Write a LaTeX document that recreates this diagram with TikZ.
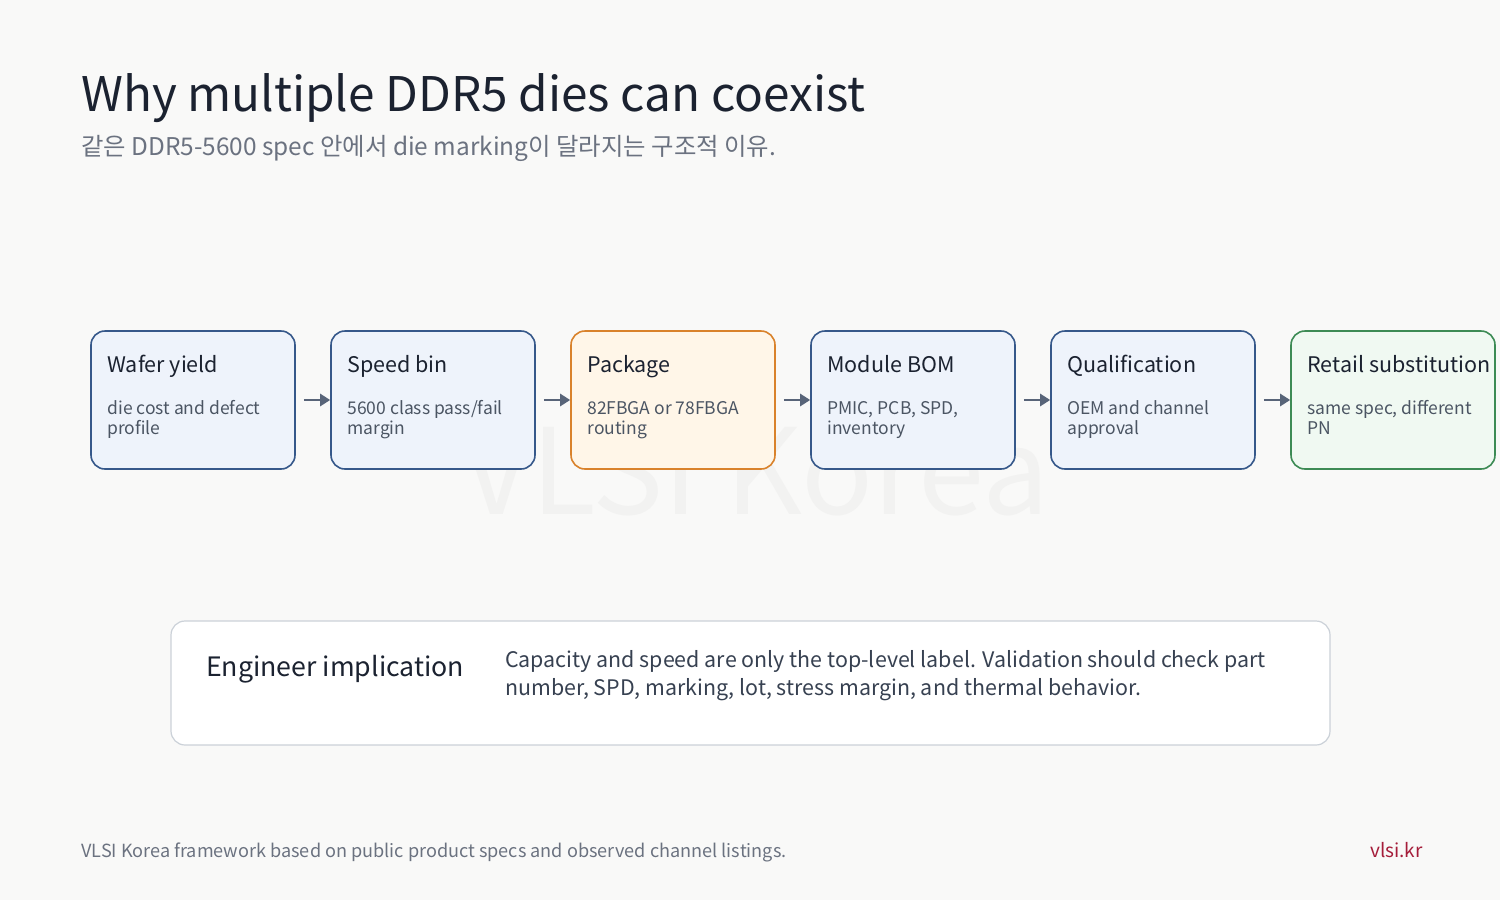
\documentclass[tikz,border=0pt]{standalone}
\usepackage{fontspec}
\setmainfont{Noto Sans CJK KR}
\usetikzlibrary{arrows.meta,calc}
\definecolor{bg}{HTML}{F9F9F8}
\definecolor{ink}{HTML}{1B2230}
\definecolor{subgray}{HTML}{6B7280}
\definecolor{descgray}{HTML}{4B5563}
\definecolor{wmgray}{HTML}{F2F2F1}
\definecolor{bluefill}{HTML}{EEF3FB}
\definecolor{bluedraw}{HTML}{36588A}
\definecolor{orangefill}{HTML}{FFF6E8}
\definecolor{orangedraw}{HTML}{D9822B}
\definecolor{greenfill}{HTML}{F0F9F2}
\definecolor{greendraw}{HTML}{3D8B55}
\definecolor{arrowgray}{HTML}{586478}
\definecolor{notedraw}{HTML}{CBD1D8}
\definecolor{bodyink}{HTML}{374151}
\definecolor{brand}{HTML}{A51D3A}
\tikzset{
  stagebox/.style={rounded corners=14pt, line width=1.6pt, minimum width=204pt, minimum height=138pt, inner sep=0pt},
  bluebox/.style={stagebox, fill=bluefill, draw=bluedraw},
  orangebox/.style={stagebox, fill=orangefill, draw=orangedraw},
  greenbox/.style={stagebox, fill=greenfill, draw=greendraw},
  stagetitle/.style={anchor=base west, inner sep=0pt, text=ink, font=\fontsize{21.5}{26}\selectfont},
  stagedesc/.style={anchor=base west, inner sep=0pt, text=descgray, align=left, font=\fontsize{17.5}{19.5}\selectfont},
  flowarrow/.style={draw=arrowgray, line width=2.6pt, -{Triangle[length=10pt,width=12pt]}, shorten <=8pt},
}
\begin{document}
\begin{tikzpicture}[x=1pt,y=-1pt]
\fill[bg] (0,0) rectangle (1500,900);
\useasboundingbox (0,0) rectangle (1500,900);

% watermark
\node[anchor=base, inner sep=0pt, text=wmgray, font=\fontsize{119}{119}\selectfont] (wm) at (756,514) {VLSI Korea};

% title
\node[anchor=base west, inner sep=0pt, text=ink, font=\fontsize{47.7}{56}\selectfont] (title) at (81,111) {Why multiple DDR5 dies can coexist};
\node[anchor=base west, inner sep=0pt, text=subgray, font=\fontsize{24.4}{30}\selectfont] (subtitle) at (81,155) {같은 DDR5-5600 spec 안에서 die marking이 달라지는 구조적 이유.};

% stages
\node[bluebox] (b1) at (193,400) {};
\node[bluebox] (b2) at (433,400) {};
\node[orangebox] (b3) at (673,400) {};
\node[bluebox] (b4) at (913,400) {};
\node[bluebox] (b5) at (1153,400) {};
\node[greenbox] (b6) at (1393,400) {};

\foreach \b/\t/\d in {
  b1/{Wafer yield}/{die cost and defect\\profile},
  b2/{Speed bin}/{5600 class pass/fail\\margin},
  b3/{Package}/{82FBGA or 78FBGA\\routing},
  b4/{Module BOM}/{PMIC, PCB, SPD,\\inventory},
  b5/{Qualification}/{OEM and channel\\approval},
  b6/{Retail substitution}/{same spec, different\\PN}}{
  \node[stagetitle] (\b-t) at ($(\b.north west)+(17,42)$) {\t};
  \node[stagedesc] (\b-d) at ($(\b.north west)+(17,104)$) {\d};
}

\draw[flowarrow] (b1) -- (b2);
\draw[flowarrow] (b2) -- (b3);
\draw[flowarrow] (b3) -- (b4);
\draw[flowarrow] (b4) -- (b5);
\draw[flowarrow] (b5) -- (b6);

% note box
\node[rounded corners=14pt, fill=white, draw=notedraw, line width=1.2pt, minimum width=1159pt, minimum height=124pt, inner sep=0pt] (note) at (750.5,683) {};
\node[anchor=base west, inner sep=0pt, text=ink, font=\fontsize{26.7}{32}\selectfont] (notehead) at (206,676) {Engineer implication};
\node[anchor=base west, inner sep=0pt, text=bodyink, align=left, font=\fontsize{21.4}{28}\selectfont] (notebody) at (505,695) {Capacity and speed are only the top-level label. Validation should check part\\number, SPD, marking, lot, stress margin, and thermal behavior.};

% footer
\node[anchor=base west, inner sep=0pt, text=subgray, font=\fontsize{18.1}{22}\selectfont] (foot) at (81,857) {VLSI Korea framework based on public product specs and observed channel listings.};
\node[anchor=base east, inner sep=0pt, text=brand, font=\fontsize{19}{24}\selectfont] (site) at (1423,857) {vlsi.kr};
\end{tikzpicture}
\end{document}
